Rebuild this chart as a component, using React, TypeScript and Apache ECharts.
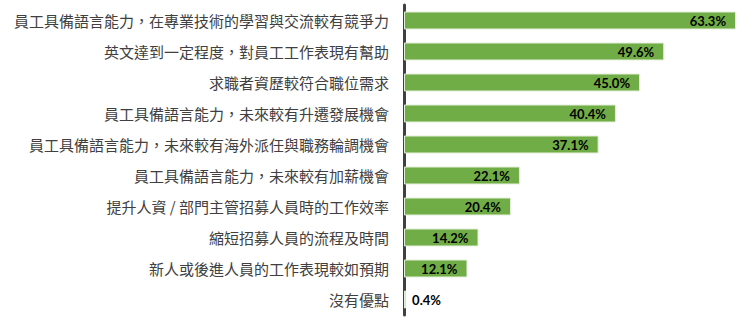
import React, { useEffect, useRef } from "react";
import * as echarts from "echarts";

const categories = [
  "員工具備語言能力，在專業技術的學習與交流較有競爭力",
  "英文達到一定程度，對員工工作表現有幫助",
  "求職者資歷較符合職位需求",
  "員工具備語言能力，未來較有升遷發展機會",
  "員工具備語言能力，未來較有海外派任與職務輪調機會",
  "員工具備語言能力，未來較有加薪機會",
  "提升人資 / 部門主管招募人員時的工作效率",
  "縮短招募人員的流程及時間",
  "新人或後進人員的工作表現較如預期",
  "沒有優點",
];
const values = [63.3, 49.6, 45.0, 40.4, 37.1, 22.1, 20.4, 14.2, 12.1, 0.4];

export default function App() {
  const ref = useRef<HTMLDivElement>(null);
  useEffect(() => {
    if (!ref.current) return;
    const chart = echarts.init(ref.current, undefined, { renderer: "svg" });
    chart.setOption({
      animation: false,
      grid: { left: 404, right: 9, top: 5, bottom: 13, containLabel: false },
      xAxis: {
        type: "value",
        min: 0,
        max: 65,
        show: false,
      },
      yAxis: {
        type: "category",
        inverse: true,
        data: categories,
        axisLine: { show: true, lineStyle: { color: "#404040", width: 3 } },
        axisTick: { show: false },
        axisLabel: {
          color: "#404040",
          fontSize: 15,
          fontFamily: "Noto Sans CJK TC",
          margin: 15,
        },
      },
      series: [
        {
          type: "bar",
          data: values.map((v) => ({
            value: v,
            label:
              v < 5
                ? { position: "right", distance: 6 }
                : { position: "insideRight", distance: 10 },
          })),
          barCategoryGap: "42%",
          itemStyle: { color: "#70AD47", borderColor: "#E2EFD9", borderWidth: 1 },
          label: {
            show: true,
            formatter: (p: any) => p.value.toFixed(1) + "%",
            color: "#000",
            fontWeight: "bold",
            fontSize: 13,
            fontFamily: "Lato",
          },
        },
      ],
    });
    return () => chart.dispose();
  }, []);
  return <div ref={ref} style={{ width: 754, height: 328, position: "absolute", left: 0, top: 0 }} />;
}
